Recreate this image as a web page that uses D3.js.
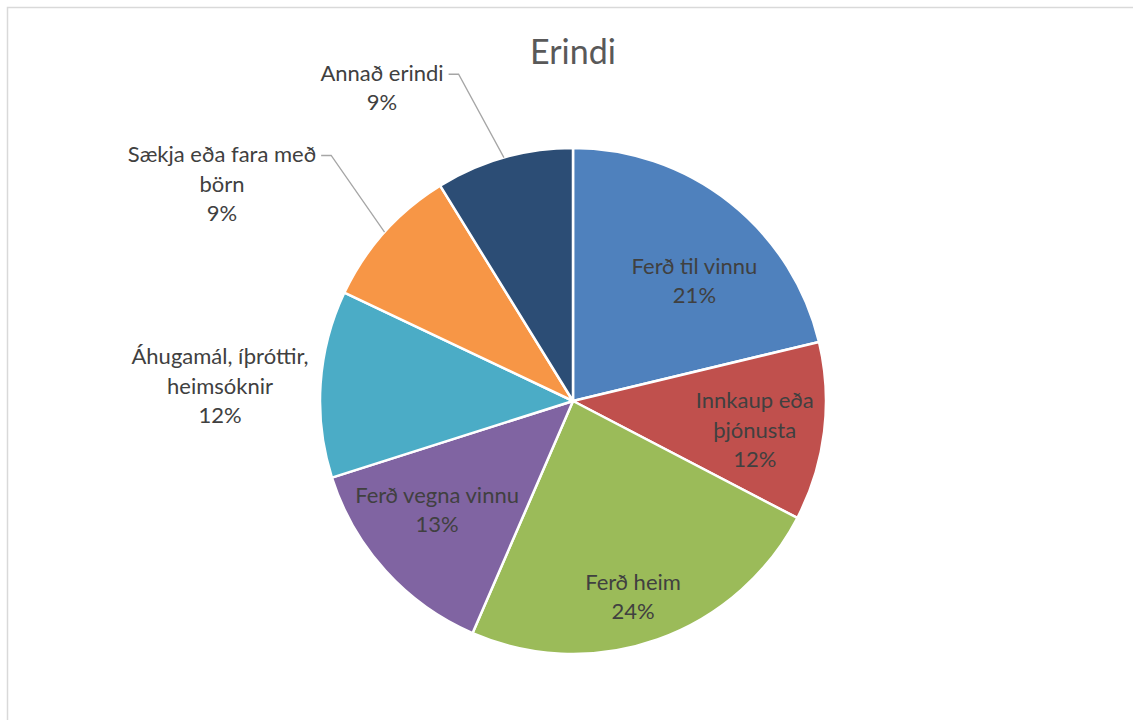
<!DOCTYPE html>
<html>
<head>
<meta charset="utf-8">
<script src="https://cdn.jsdelivr.net/npm/d3@7"></script>
<style>
  html, body { margin: 0; padding: 0; background: #fff; overflow: hidden; }
  svg { display: block; font-family: Lato, "Open Sans", "DejaVu Sans", sans-serif; }
</style>
</head>
<body>
<svg id="chart" width="1133" height="720"></svg>
<script>
// Data (share of trips, %)
const categories = [
  "Ferð til vinnu",
  "Innkaup eða þjónusta",
  "Ferð heim",
  "Ferð vegna vinnu",
  "Áhugamál, íþróttir, heimsóknir",
  "Sækja eða fara með börn",
  "Annað erindi"
];
const values = [21.25, 11.4, 23.85, 13.6, 11.95, 9.15, 8.8];
const percentLabels = ["21%", "12%", "24%", "13%", "12%", "9%", "9%"];
const colors = ["#4F81BD", "#C0504D", "#9BBB59", "#8064A2", "#4BACC6", "#F79646", "#2C4D75"];

// How each label is wrapped into lines
const labelLines = [
  ["Ferð til vinnu"],
  ["Innkaup eða", "þjónusta"],
  ["Ferð heim"],
  ["Ferð vegna vinnu"],
  ["Áhugamál, íþróttir,", "heimsóknir"],
  ["Sækja eða fara með", "börn"],
  ["Annað erindi"]
];
// label placement: inside slices use radius + angle nudge, outside ones use an offset from center
const labelPlace = [
  { inside: true, r: 171, da: 7 },
  { inside: true, r: 184, da: 2 },
  { inside: true, r: 205, da: 2.5 },
  { inside: true, r: 174, da: 3.5 },
  { inside: false, dx: -353, dy: -15 },
  { inside: false, dx: -351, dy: -217 },
  { inside: false, dx: -191, dy: -313 }
];

const svg = d3.select("#chart");
const cx = 573, cy = 401, radius = 253;
const lineH = 29.5;

// chart area border (runs off the right / bottom of the window)
svg.append("rect")
  .attr("x", 7.5).attr("y", 7.5)
  .attr("width", 1140).attr("height", 730)
  .attr("fill", "#fff")
  .attr("stroke", "#d9d9d9")
  .attr("stroke-width", 1.5);

svg.append("text")
  .attr("x", cx).attr("y", 64)
  .attr("text-anchor", "middle")
  .attr("fill", "#595959")
  .style("font-size", "34px")
  .text("Erindi");

const data = categories.map((c, i) => ({ name: c, value: values[i], i }));

const pie = d3.pie().value(d => d.value).sort(null);
const arcs = pie(data);
const arc = d3.arc().innerRadius(0).outerRadius(radius);

const g = svg.append("g").attr("transform", `translate(${cx},${cy})`);

g.selectAll("path.slice")
  .data(arcs)
  .enter().append("path")
  .attr("class", "slice")
  .attr("d", arc)
  .attr("fill", d => colors[d.data.i])
  .attr("stroke", "#fff")
  .attr("stroke-width", 2.5)
  .attr("stroke-linejoin", "round");

function labelCenter(d) {
  const p = labelPlace[d.data.i];
  if (p.inside) {
    const a = (d.startAngle + d.endAngle) / 2 + p.da * Math.PI / 180;
    return [Math.sin(a) * p.r, -Math.cos(a) * p.r];
  }
  return [p.dx, p.dy];
}

const labels = g.selectAll("text.lbl")
  .data(arcs)
  .enter().append("text")
  .attr("class", "lbl")
  .attr("text-anchor", "middle")
  .attr("fill", "#404040")
  .style("font-size", "22px");

labels.each(function(d) {
  const lines = labelLines[d.data.i].concat([percentLabels[d.data.i]]);
  const [x, y] = labelCenter(d);
  const top = y - (lines.length - 1) * lineH / 2;
  const t = d3.select(this);
  lines.forEach((s, k) => {
    t.append("tspan")
      .attr("x", x)
      .attr("y", top + k * lineH)
      .attr("dy", "0.35em")
      .text(s);
  });
});

// leader lines for the two small slices with labels outside
const leaderIdx = [5, 6];
labels.filter(d => leaderIdx.includes(d.data.i)).each(function(d) {
  const first = d3.select(this).select("tspan").node();
  const bb = first.getBBox();
  const [x, y] = labelCenter(d);
  const lines = labelLines[d.data.i].length + 1;
  const y0 = y - (lines - 1) * lineH / 2 + 1;
  const x0 = bb.x + bb.width + 5;
  const a = (d.startAngle + d.endAngle) / 2;
  const ex = Math.sin(a) * radius, ey = -Math.cos(a) * radius;
  g.append("path")
    .attr("d", d3.line()([[x0, y0], [x0 + 10, y0], [ex, ey]]))
    .attr("fill", "none")
    .attr("stroke", "#a6a6a6")
    .attr("stroke-width", 1.3);
});
</script>
</body>
</html>
